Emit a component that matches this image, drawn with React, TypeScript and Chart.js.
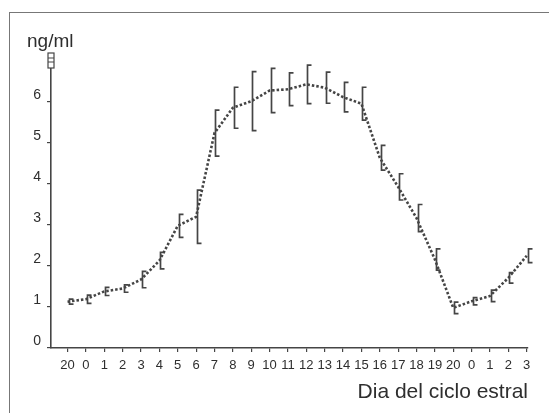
import React, { useEffect, useRef } from "react";
import { Chart, registerables } from "chart.js";

Chart.register(...registerables);

// Day of the oestrous cycle (x categories)
const dayLabels = ["20", "0", "1", "2", "3", "4", "5", "6", "7", "8", "9", "10", "11", "12", "13", "14", "15", "16", "17", "18", "19", "20", "0", "1", "2", "3"];
// Mean concentration (ng/ml)
const meanValues = [1.13, 1.19, 1.38, 1.45, 1.67, 2.13, 2.98, 3.2, 5.24, 5.86, 6.02, 6.28, 6.31, 6.43, 6.35, 6.12, 5.96, 4.64, 3.93, 3.17, 2.16, 0.98, 1.14, 1.27, 1.71, 2.25];
// Error (± SEM)
const semValues = [0.06, 0.1, 0.1, 0.09, 0.2, 0.2, 0.28, 0.65, 0.56, 0.5, 0.72, 0.54, 0.4, 0.47, 0.38, 0.36, 0.4, 0.3, 0.32, 0.33, 0.26, 0.14, 0.09, 0.14, 0.13, 0.17];
// y ticks
const yTickValues = [0, 1, 2, 3, 4, 5, 6, 7];
const yMax = 7;
const yUnitLabel = "ng/ml";
const xAxisTitle = "Dia del ciclo estral";

const FONT = "'Liberation Sans', Arial, Helvetica, sans-serif";
const INK = "#454545";
const TEXT = "#2e2e2e";

const errorBarPlugin = {
  id: "errorBars",
  afterDatasetsDraw(chart: any) {
    const xs = chart.scales.x;
    const ys = chart.scales.y;
    const ctx = chart.ctx;
    ctx.save();
    ctx.strokeStyle = INK;
    ctx.lineWidth = 1.7;
    meanValues.forEach((m, i) => {
      const x = Math.round(xs.getPixelForValue(i)) + 1.5;
      const yTop = ys.getPixelForValue(m + semValues[i]);
      const yBot = ys.getPixelForValue(m - semValues[i]);
      ctx.beginPath();
      ctx.moveTo(x + 4, yTop);
      ctx.lineTo(x, yTop);
      ctx.lineTo(x, yBot);
      ctx.lineTo(x + 4, yBot);
      ctx.stroke();
    });
    ctx.restore();
  },
};

const decorPlugin = {
  id: "decor",
  afterDraw(chart: any) {
    const xs = chart.scales.x;
    const ys = chart.scales.y;
    const ctx = chart.ctx;
    ctx.save();
    // axis-end marker at top of y axis
    const ax = xs.left;
    const ty = ys.getPixelForValue(yMax);
    ctx.fillStyle = "#ffffff";
    ctx.strokeStyle = INK;
    ctx.lineWidth = 1.2;
    ctx.fillRect(ax - 3, ty - 8, 6, 15);
    ctx.strokeRect(ax - 3, ty - 8, 6, 15);
    ctx.beginPath();
    ctx.moveTo(ax - 3, ty - 3);
    ctx.lineTo(ax + 3, ty - 3);
    ctx.moveTo(ax - 3, ty + 1);
    ctx.lineTo(ax + 3, ty + 1);
    ctx.stroke();
    // texts
    ctx.fillStyle = TEXT;
    ctx.textBaseline = "alphabetic";
    ctx.textAlign = "left";
    ctx.font = `19px ${FONT}`;
    ctx.fillText(yUnitLabel, 27, 47);
    ctx.textAlign = "right";
    ctx.font = `21px ${FONT}`;
    ctx.fillText(xAxisTitle, xs.right, 398);
    ctx.restore();
  },
};

export default function App() {
  const canvasRef = useRef<HTMLCanvasElement | null>(null);

  useEffect(() => {
    document.body.style.margin = "0";
    const canvas = canvasRef.current;
    if (!canvas) return;
    const chart = new Chart(canvas, {
      type: "line",
      data: {
        datasets: [
          {
            data: meanValues.map((v, i) => ({ x: i, y: v })),
            borderColor: INK,
            borderWidth: 2.6,
            borderDash: [2.5, 2],
            pointRadius: 0,
            tension: 0,
            fill: false,
          },
        ],
      },
      options: {
        responsive: false,
        animation: false,
        devicePixelRatio: 1,
        layout: { padding: { left: 0, top: 61, right: 21, bottom: 0 } },
        plugins: {
          legend: { display: false },
          tooltip: { enabled: false },
          title: { display: false },
        },
        scales: {
          x: {
            type: "linear",
            min: -0.9,
            max: 25.07,
            afterBuildTicks: (scale: any) => {
              scale.ticks = dayLabels.map((_, i) => ({ value: i }));
            },
            afterFit: (scale: any) => {
              scale.height = 65;
            },
            ticks: {
              autoSkip: false,
              maxRotation: 0,
              minRotation: 0,
              padding: 6,
              color: TEXT,
              font: { family: FONT, size: 13 },
              callback: (v: any) => dayLabels[Math.round(Number(v))] ?? "",
            },
            grid: {
              drawOnChartArea: false,
              tickLength: 4,
              color: INK,
              lineWidth: 1.2,
            },
            border: { display: true, color: INK, width: 1.6 },
          },
          y: {
            type: "linear",
            min: 0,
            max: yMax,
            afterBuildTicks: (scale: any) => {
              scale.ticks = yTickValues.map((v) => ({ value: v }));
            },
            afterFit: (scale: any) => {
              scale.width = 51;
            },
            ticks: {
              padding: 6,
              labelOffset: -7,
              color: TEXT,
              font: { family: FONT, size: 14 },
              callback: (v: any) => (Number(v) === yMax ? "" : String(v)),
            },
            grid: {
              drawOnChartArea: false,
              tickLength: 4,
              color: (c: any) => (c.tick && c.tick.value === yMax ? "rgba(0,0,0,0)" : INK),
              lineWidth: 1.2,
            },
            border: { display: true, color: INK, width: 1.6 },
          },
        },
      },
      plugins: [errorBarPlugin, decorPlugin],
    });
    return () => chart.destroy();
  }, []);

  return (
    <div style={{ position: "fixed", left: 0, top: 0, width: 549, height: 413, background: "#fff" }}>
      <div
        style={{
          position: "absolute",
          left: 9,
          top: 12,
          right: 0,
          bottom: 0,
          borderLeft: "1.5px solid #777",
          borderTop: "1.5px solid #777",
        }}
      />
      <canvas ref={canvasRef} width={549} height={413} style={{ position: "absolute", left: 0, top: 0, width: 549, height: 413 }} />
    </div>
  );
}
